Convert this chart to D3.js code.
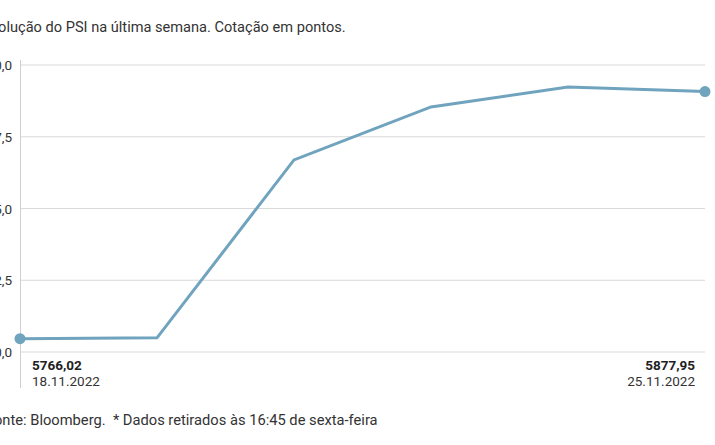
<!doctype html>
<html lang="pt">
<head>
<meta charset="UTF-8">
<title>PSI</title>
<script src="https://cdn.jsdelivr.net/npm/d3@7"></script>
<style>
    body { margin: 0; background: #fff; }
    svg { font-family: Roboto, sans-serif; }
</style>
</head>
<body>
<script>
    var width = 715;
    var height = 445;

    var dates = ["18.11.2022", "21.11.2022", "22.11.2022", "23.11.2022", "24.11.2022", "25.11.2022"];
    var values = [5766.02, 5766.4, 5847.0, 5871.0, 5880.0, 5877.95];
    var y_ticks = [5760, 5792.5, 5825, 5857.5, 5890];

    var fmt = function (v, d) { return v.toFixed(d).replace(".", ","); };

    var x_scale = d3.scalePoint().domain(dates).range([20, 705]);
    var y_scale = d3.scaleLinear().domain([5760, 5890]).range([352, 65]);

    var svg = d3.select("body").append("svg").attr("width", width).attr("height", height);

    // grid
    svg.selectAll("line.grid")
        .data(y_ticks)
        .enter()
        .append("line")
        .attr("x1", 20).attr("x2", 705)
        .attr("y1", function (d) { return y_scale(d); })
        .attr("y2", function (d) { return y_scale(d); })
        .attr("stroke", "#d9d9d9").attr("stroke-width", 1);

    svg.append("line")
        .attr("x1", 20.5).attr("x2", 20.5).attr("y1", 60).attr("y2", 388)
        .attr("stroke", "#cfcfcf");

    svg.selectAll("text.tick")
        .data(y_ticks)
        .enter()
        .append("text")
        .text(function (d) { return fmt(d, 1); })
        .attr("x", 12)
        .attr("y", function (d) { return y_scale(d) + 5; })
        .attr("text-anchor", "end")
        .attr("font-size", "13.5px")
        .attr("fill", "#333");

    var line = d3.line()
        .x(function (d, i) { return x_scale(dates[i]); })
        .y(function (d) { return y_scale(d); });

    svg.append("path")
        .datum(values)
        .attr("d", line)
        .attr("fill", "none")
        .attr("stroke", "#6fa3be")
        .attr("stroke-width", 3);

    var ends = [0, values.length - 1];
    svg.selectAll("circle")
        .data(ends)
        .enter()
        .append("circle")
        .attr("cx", function (i) { return x_scale(dates[i]); })
        .attr("cy", function (i) { return y_scale(values[i]); })
        .attr("r", 5.5)
        .attr("fill", "#6fa3be");

    svg.selectAll("text.val")
        .data(ends)
        .enter()
        .append("text")
        .text(function (i) { return fmt(values[i], 2); })
        .attr("x", function (i) { return i === 0 ? 32 : 695; })
        .attr("y", 370)
        .attr("text-anchor", function (i) { return i === 0 ? "start" : "end"; })
        .attr("font-size", "13.5px")
        .attr("font-weight", "bold")
        .attr("fill", "#222");

    svg.selectAll("text.date")
        .data(ends)
        .enter()
        .append("text")
        .text(function (i) { return dates[i]; })
        .attr("x", function (i) { return i === 0 ? 32 : 695; })
        .attr("y", 386)
        .attr("text-anchor", function (i) { return i === 0 ? "start" : "end"; })
        .attr("font-size", "13.5px")
        .attr("fill", "#333");

    svg.append("text")
        .text("Evolução do PSI na última semana. Cotação em pontos.")
        .attr("x", -17).attr("y", 32)
        .attr("font-size", "14.6px").attr("fill", "#333");

    svg.append("text")
        .text("Fonte: Bloomberg.  * Dados retirados às 16:45 de sexta-feira")
        .attr("x", -14).attr("y", 425)
        .attr("font-size", "14.7px").attr("fill", "#333")
        .attr("xml:space", "preserve");
</script>
</body>
</html>
